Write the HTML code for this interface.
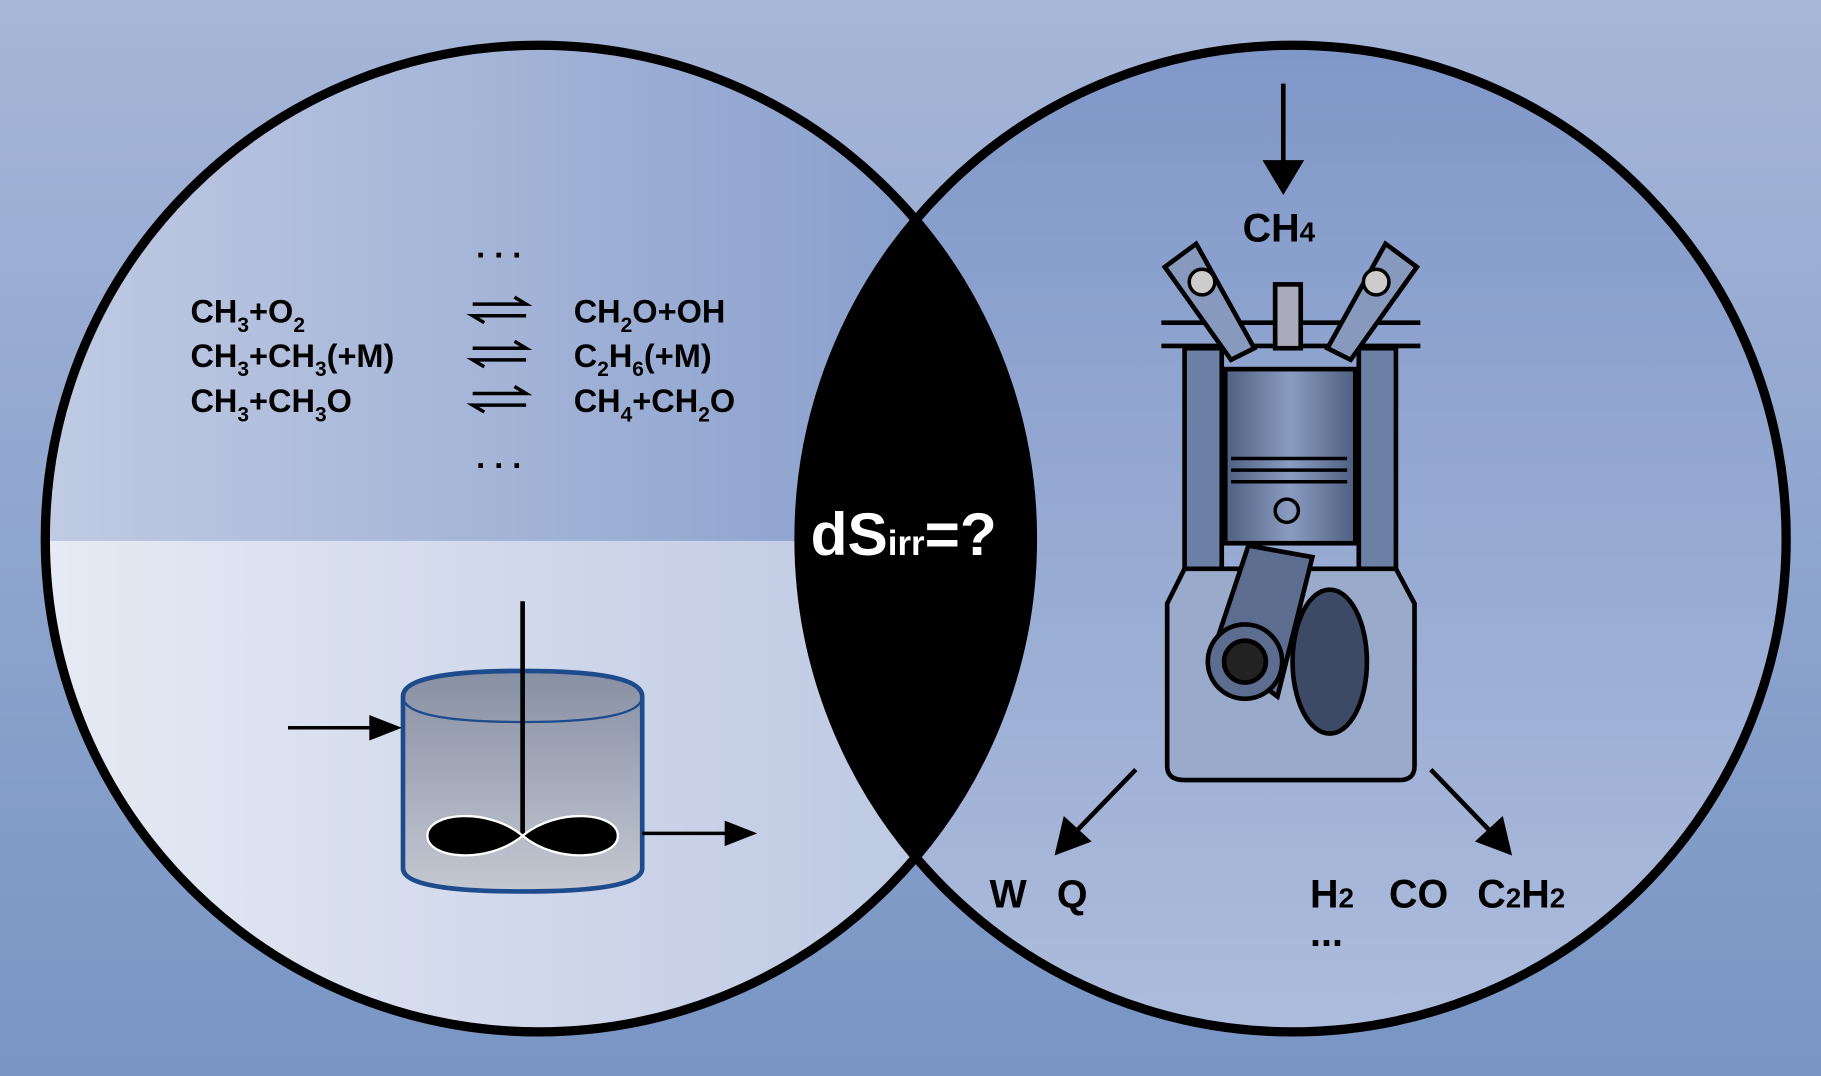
<!DOCTYPE html>
<html><head><meta charset="utf-8"><style>
html,body{margin:0;padding:0;width:1821px;height:1076px;overflow:hidden}
svg{display:block}
text{font-family:"Liberation Sans",sans-serif;font-weight:bold}
</style></head><body>
<svg width="1821" height="1076" viewBox="0 0 1568 927" preserveAspectRatio="none" xmlns="http://www.w3.org/2000/svg">
<defs>
<linearGradient id="bg" x1="0" y1="0" x2="0" y2="1"><stop offset="0" stop-color="#a6b6d8"/><stop offset="1" stop-color="#7895c4"/></linearGradient>
<linearGradient id="lt" x1="0" y1="0" x2="1" y2="0"><stop offset="0" stop-color="#c3cde4"/><stop offset="1" stop-color="#8199c9"/></linearGradient>
<linearGradient id="lb" x1="0" y1="0" x2="1" y2="0"><stop offset="0" stop-color="#e8ecf5"/><stop offset="1" stop-color="#b8c4e0"/></linearGradient>
<linearGradient id="rc" x1="0" y1="0" x2="0" y2="1"><stop offset="0" stop-color="#8098c8"/><stop offset="1" stop-color="#adbcdc"/></linearGradient>
<linearGradient id="tank" x1="0" y1="0" x2="0" y2="1"><stop offset="0" stop-color="#878fa3"/><stop offset="1" stop-color="#c4c8d2"/></linearGradient>
<linearGradient id="eng" x1="0" y1="0" x2="1" y2="0"><stop offset="0" stop-color="#4e5f80"/><stop offset="0.5" stop-color="#8a9cc0"/><stop offset="1" stop-color="#4e5f80"/></linearGradient>
<clipPath id="lc"><circle cx="464" cy="464" r="425"/></clipPath>
</defs>
<rect width="1568" height="927" fill="url(#bg)"/>
<g clip-path="url(#lc)">
<rect x="0" y="0" width="900" height="466" fill="url(#lt)"/>
<rect x="0" y="466" width="900" height="500" fill="url(#lb)"/>
</g>
<circle cx="1113" cy="464" r="425" fill="url(#rc)"/>
<g clip-path="url(#lc)"><circle cx="1113" cy="464" r="425" fill="#000"/></g>
<circle cx="464" cy="464" r="425" fill="none" stroke="#000" stroke-width="8"/>
<circle cx="1113" cy="464" r="425" fill="none" stroke="#000" stroke-width="8"/>
<text x="698" y="478" font-size="52" fill="#fff">dS<tspan font-size="30">irr</tspan>=?</text>
<g font-size="28" fill="#000">
<text x="410" y="222">. . .</text>
<text x="410" y="403">. . .</text>
<text x="164" y="278">CH<tspan font-size="18" dy="8">3</tspan><tspan dy="-8">+O</tspan><tspan font-size="18" dy="8">2</tspan></text>
<text x="164" y="316">CH<tspan font-size="18" dy="8">3</tspan><tspan dy="-8">+CH</tspan><tspan font-size="18" dy="8">3</tspan><tspan dy="-8">(+M)</tspan></text>
<text x="164" y="355">CH<tspan font-size="18" dy="8">3</tspan><tspan dy="-8">+CH</tspan><tspan font-size="18" dy="8">3</tspan><tspan dy="-8">O</tspan></text>
<text x="494" y="278">CH<tspan font-size="18" dy="8">2</tspan><tspan dy="-8">O+OH</tspan></text>
<text x="494" y="316">C<tspan font-size="18" dy="8">2</tspan><tspan dy="-8">H</tspan><tspan font-size="18" dy="8">6</tspan><tspan dy="-8">(+M)</tspan></text>
<text x="494" y="355">CH<tspan font-size="18" dy="8">4</tspan><tspan dy="-8">+CH</tspan><tspan font-size="18" dy="8">2</tspan><tspan dy="-8">O</tspan></text>
</g>
<g stroke="#000" stroke-width="3" fill="none">
<path d="M407 262h46l-10-6M453 272h-46l10 6"/>
<path d="M407 300h46l-10-6M453 310h-46l10 6"/>
<path d="M407 339h46l-10-6M453 349h-46l10 6"/>
</g>
<path d="M347 600 Q347 578 450 578 Q553 578 553 600 V748 Q553 768 450 768 Q347 768 347 748Z" fill="url(#tank)" stroke="#1e4b8c" stroke-width="4"/>
<path d="M347 600 Q347 622 450 622 Q553 622 553 600" fill="none" stroke="#1e4b8c" stroke-width="2"/>
<line x1="450" y1="518" x2="450" y2="720" stroke="#000" stroke-width="4"/>
<path d="M450 720 C420 695 368 700 368 720 C368 740 420 745 450 720 C480 695 532 700 532 720 C532 740 480 745 450 720Z" fill="#000" stroke="#fff" stroke-width="2"/>
<line x1="248" y1="627" x2="320" y2="627" stroke="#000" stroke-width="3"/><path d="M346 627l-28-11v22z"/>
<line x1="553" y1="718" x2="625" y2="718" stroke="#000" stroke-width="3"/><path d="M652 718l-28-11v22z"/>
<line x1="1105" y1="72" x2="1105" y2="140" stroke="#000" stroke-width="4"/><path d="M1105 168l-18-30h36z"/>
<text x="1070" y="208" font-size="34">CH<tspan font-size="24">4</tspan></text>
<g stroke="#000" stroke-width="4">
<path d="M1000 278h223M1000 298h223" fill="none"/>
<rect x="1020" y="300" width="32" height="200" fill="#6c7fa5"/>
<rect x="1170" y="300" width="32" height="200" fill="#6c7fa5"/>
<path d="M1020 490 L1005 520 V660 Q1005 672 1020 672 H1205 Q1218 672 1218 660 V520 L1202 490Z" fill="#9aaacb"/>
<path d="M1003 230 L1030 210 L1080 300 L1060 310Z" fill="#8799bc"/>
<path d="M1220 230 L1193 210 L1143 300 L1163 310Z" fill="#8799bc"/>
<rect x="1098" y="245" width="22" height="55" fill="#aab"/>
<rect x="1055" y="318" width="112" height="150" fill="url(#eng)"/>
<path d="M1075 470 L1045 560 L1100 600 L1130 480Z" fill="#5c6d90"/>
<ellipse cx="1145" cy="570" rx="32" ry="62" fill="#3d4a66"/>
<circle cx="1072" cy="570" r="32" fill="#5c6d90"/>
<circle cx="1072" cy="570" r="18" fill="#222"/>
</g>
<g stroke="#000" stroke-width="3"><path d="M1060 395h100M1060 405h100M1060 415h100"/></g>
<circle cx="1108" cy="440" r="10" fill="none" stroke="#000" stroke-width="3"/>
<circle cx="1035" cy="243" r="11" fill="#ccc" stroke="#000" stroke-width="3"/>
<circle cx="1185" cy="243" r="11" fill="#ccc" stroke="#000" stroke-width="3"/>
<line x1="978" y1="663" x2="925" y2="718" stroke="#000" stroke-width="4"/><path d="M908 737l8-34 24 22z"/>
<line x1="1232" y1="663" x2="1285" y2="718" stroke="#000" stroke-width="4"/><path d="M1302 737l-8-34-24 22z"/>
<g font-size="34">
<text x="852" y="782">W</text><text x="910" y="782">Q</text>
<text x="1128" y="782">H<tspan font-size="24">2</tspan></text>
<text x="1196" y="782">CO</text>
<text x="1272" y="782">C<tspan font-size="24">2</tspan>H<tspan font-size="24">2</tspan></text>
<text x="1128" y="815">...</text>
</g>
</svg>
</body></html>
